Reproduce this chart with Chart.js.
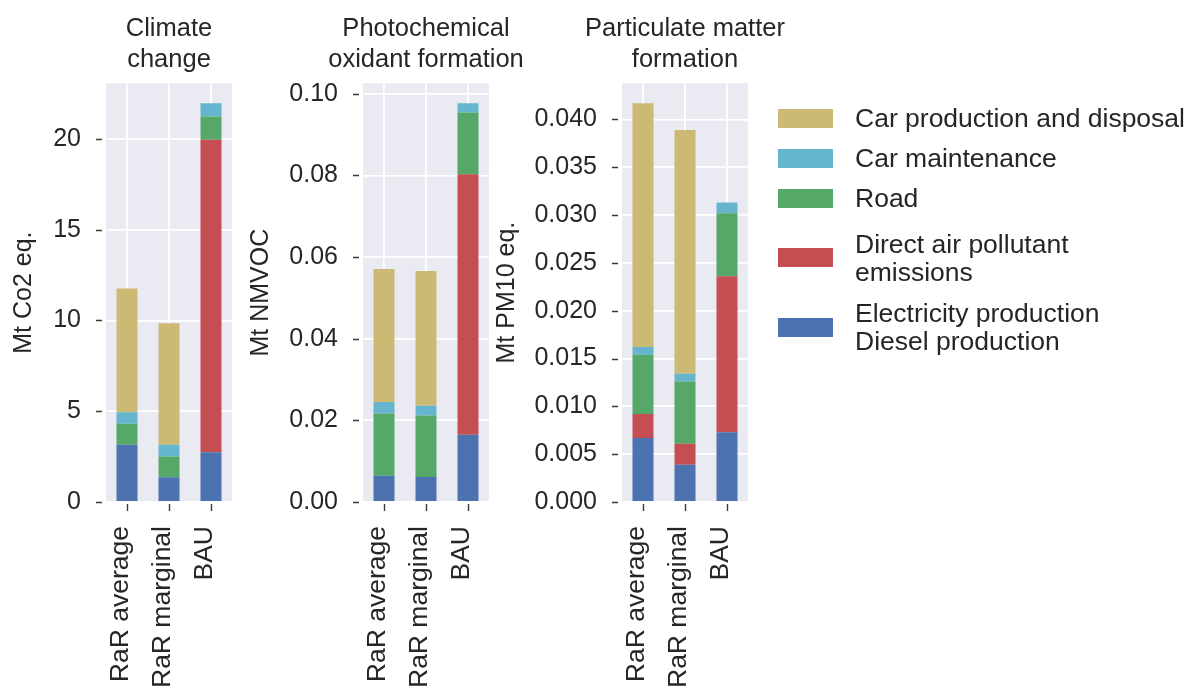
<!DOCTYPE html>
<html>
<head>
<meta charset="utf-8">
<script src="https://cdn.jsdelivr.net/npm/chart.js@4.4.0/dist/chart.umd.min.js"></script>
<style>
  html, body { margin: 0; padding: 0; background: #fff; width: 1192px; height: 686px; overflow: hidden; }
  canvas { position: absolute; top: 0; }
  #legend { position: absolute; left: 0; top: 0; font-family: "Liberation Sans", Arial, sans-serif; font-size: 26.5px; color: #262626; }
  .item { position: absolute; left: 778px; display: flex; align-items: center; }
  .swatch { width: 55px; height: 19px; margin-right: 22px; flex: none; }
  .text { line-height: 28px; white-space: nowrap; }
</style>
</head>
<body>
<canvas id="c1"></canvas>
<canvas id="c2"></canvas>
<canvas id="c3"></canvas>
<div id="legend"></div>
<script>
// Scenarios compared
const scenarios = ['RaR average', 'RaR marginal', 'BAU'];

// Contributions, stacked bottom to top:
// energy supply, direct emissions, road, maintenance, car production
const componentNames = [
  ['Electricity production', 'Diesel production'],
  ['Direct air pollutant', 'emissions'],
  ['Road'],
  ['Car maintenance'],
  ['Car production and disposal']
];
const componentColors = ['#4C72B0', '#C44E52', '#55A868', '#64B5CD', '#CCB974'];

// Climate change (Mt CO2 eq.)
const climateSupply      = [3.15, 1.37, 2.74];
const climateDirect      = [0.00, 0.00, 17.22];
const climateRoad        = [1.16, 1.14, 1.28];
const climateMaintenance = [0.64, 0.64, 0.73];
const climateCar         = [6.81, 6.70, 0.00];
const climateTicks = ['0', '5', '10', '15', '20'];

// Photochemical oxidant formation (Mt NMVOC)
const photoSupply      = [0.0064, 0.0061, 0.0165];
const photoDirect      = [0.0000, 0.0000, 0.0638];
const photoRoad        = [0.0153, 0.0151, 0.0151];
const photoMaintenance = [0.0028, 0.0024, 0.0023];
const photoCar         = [0.0326, 0.0330, 0.0000];
const photoTicks = ['0.00', '0.02', '0.04', '0.06', '0.08', '0.10'];

// Particulate matter formation (Mt PM10 eq.)
const pmSupply      = [0.0067, 0.0039, 0.0073];
const pmDirect      = [0.0025, 0.0022, 0.0163];
const pmRoad        = [0.0062, 0.0065, 0.0066];
const pmMaintenance = [0.0008, 0.0008, 0.0011];
const pmCar         = [0.0255, 0.0255, 0.0000];
const pmTicks = ['0.000', '0.005', '0.010', '0.015', '0.020', '0.025', '0.030', '0.035', '0.040'];

const FONT = '"Liberation Sans", Arial, sans-serif';
const TEXT = '#262626';
const AREA_W = 126;
const CANVAS_H = 686;

// grey panel behind each axes
const panelBackground = {
  id: 'panelBackground',
  beforeDraw(chart) {
    const { ctx, chartArea: a } = chart;
    ctx.save();
    ctx.fillStyle = '#EAEAF2';
    ctx.fillRect(a.left, a.top, a.right - a.left, a.bottom - a.top);
    ctx.restore();
  }
};

// short tick marks sitting just outside the panel
const outerTicks = {
  id: 'outerTicks',
  afterDraw(chart) {
    const { ctx, chartArea: a } = chart;
    const xs = chart.scales.x, ys = chart.scales.y;
    ctx.save();
    ctx.strokeStyle = '#3a3a3a';
    ctx.lineWidth = 1.4;
    ctx.beginPath();
    ys.ticks.forEach((t, i) => {
      const y = Math.round(ys.getPixelForTick(i)) + 0.5;
      ctx.moveTo(a.left - 10, y);
      ctx.lineTo(a.left - 4, y);
    });
    xs.ticks.forEach((t, i) => {
      const x = Math.round(xs.getPixelForTick(i)) + 0.5;
      ctx.moveTo(x, a.bottom + 2);
      ctx.lineTo(x, a.bottom + 9);
    });
    ctx.stroke();
    ctx.restore();
  }
};

function buildPanel(id, canvasLeft, axisWidth, titlePad, titleLines, yTitle, tickLabels, series) {
  const canvas = document.getElementById(id);
  const width = 2 * axisWidth + AREA_W;
  canvas.width = width;
  canvas.height = CANVAS_H;
  canvas.style.width = width + 'px';
  canvas.style.height = CANVAS_H + 'px';
  canvas.style.left = canvasLeft + 'px';

  const totals = scenarios.map((_, i) => series.reduce((s, arr) => s + arr[i], 0));
  const yMax = Math.max(...totals) * 1.05;
  const tickValues = tickLabels.map(Number);

  new Chart(canvas, {
    type: 'bar',
    data: {
      labels: scenarios,
      datasets: series.map((values, k) => ({
        label: componentNames[k].join(' '),
        data: values,
        backgroundColor: componentColors[k],
        borderWidth: 0,
        categoryPercentage: 1.0,
        barPercentage: 0.5
      }))
    },
    options: {
      responsive: false,
      animation: false,
      devicePixelRatio: 1,
      layout: { padding: 0 },
      plugins: {
        legend: { display: false },
        tooltip: { enabled: false },
        title: {
          display: true,
          text: titleLines,
          color: TEXT,
          font: { family: FONT, size: 25.5, weight: 'normal', lineHeight: 1.2 },
          padding: { top: 14, bottom: 8 }
        }
      },
      scales: {
        x: {
          stacked: true,
          offset: true,
          grid: { color: '#ffffff', lineWidth: 1.8, offset: false, drawTicks: false },
          border: { display: false },
          ticks: {
            autoSkip: false,
            minRotation: 90,
            maxRotation: 90,
            padding: 24,
            labelOffset: -6,
            color: TEXT,
            font: { family: FONT, size: 26.5 }
          },
          afterFit(scale) { scale.height = CANVAS_H - 502; }
        },
        y: {
          stacked: true,
          min: 0,
          max: yMax,
          afterBuildTicks(scale) { scale.ticks = tickValues.map(v => ({ value: v })); },
          grid: { color: '#ffffff', lineWidth: 1.8, drawTicks: false },
          border: { display: false },
          ticks: {
            padding: 25,
            color: TEXT,
            font: { family: FONT, size: 25 },
            callback: (v, i) => tickLabels[i]
          },
          title: {
            display: true,
            text: yTitle,
            color: TEXT,
            font: { family: FONT, size: 25, lineHeight: 1.2 },
            padding: { top: titlePad, bottom: 0 }
          },
          afterFit(scale) { scale.width = axisWidth; }
        },
        // empty right-hand margin so the title centres over the panel
        spacer: {
          type: 'linear',
          position: 'right',
          display: true,
          grid: { display: false, drawOnChartArea: false },
          border: { display: false },
          ticks: { display: false },
          afterFit(scale) { scale.width = axisWidth; }
        }
      }
    },
    plugins: [panelBackground, outerTicks]
  });
}

buildPanel('c1', 0, 106, 9, ['Climate', 'change'], 'Mt Co2 eq.', climateTicks,
  [climateSupply, climateDirect, climateRoad, climateMaintenance, climateCar]);
buildPanel('c2', 240, 123, 6, ['Photochemical', 'oxidant formation'], 'Mt NMVOC', photoTicks,
  [photoSupply, photoDirect, photoRoad, photoMaintenance, photoCar]);
buildPanel('c3', 485, 137, 7, ['Particulate matter', 'formation'], 'Mt PM10 eq.', pmTicks,
  [pmSupply, pmDirect, pmRoad, pmMaintenance, pmCar]);

// legend, listed top of stack first
const legend = document.getElementById('legend');
const legendCenters = [118, 158, 198, 257.5, 327];
for (let k = componentNames.length - 1, row = 0; k >= 0; k--, row++) {
  const lines = componentNames[k];
  const item = document.createElement('div');
  item.className = 'item';
  item.style.top = (legendCenters[row] - lines.length * 14) + 'px';
  const sw = document.createElement('div');
  sw.className = 'swatch';
  sw.style.background = componentColors[k];
  const tx = document.createElement('div');
  tx.className = 'text';
  tx.innerHTML = lines.join('<br>');
  item.appendChild(sw);
  item.appendChild(tx);
  legend.appendChild(item);
}
</script>
</body>
</html>
